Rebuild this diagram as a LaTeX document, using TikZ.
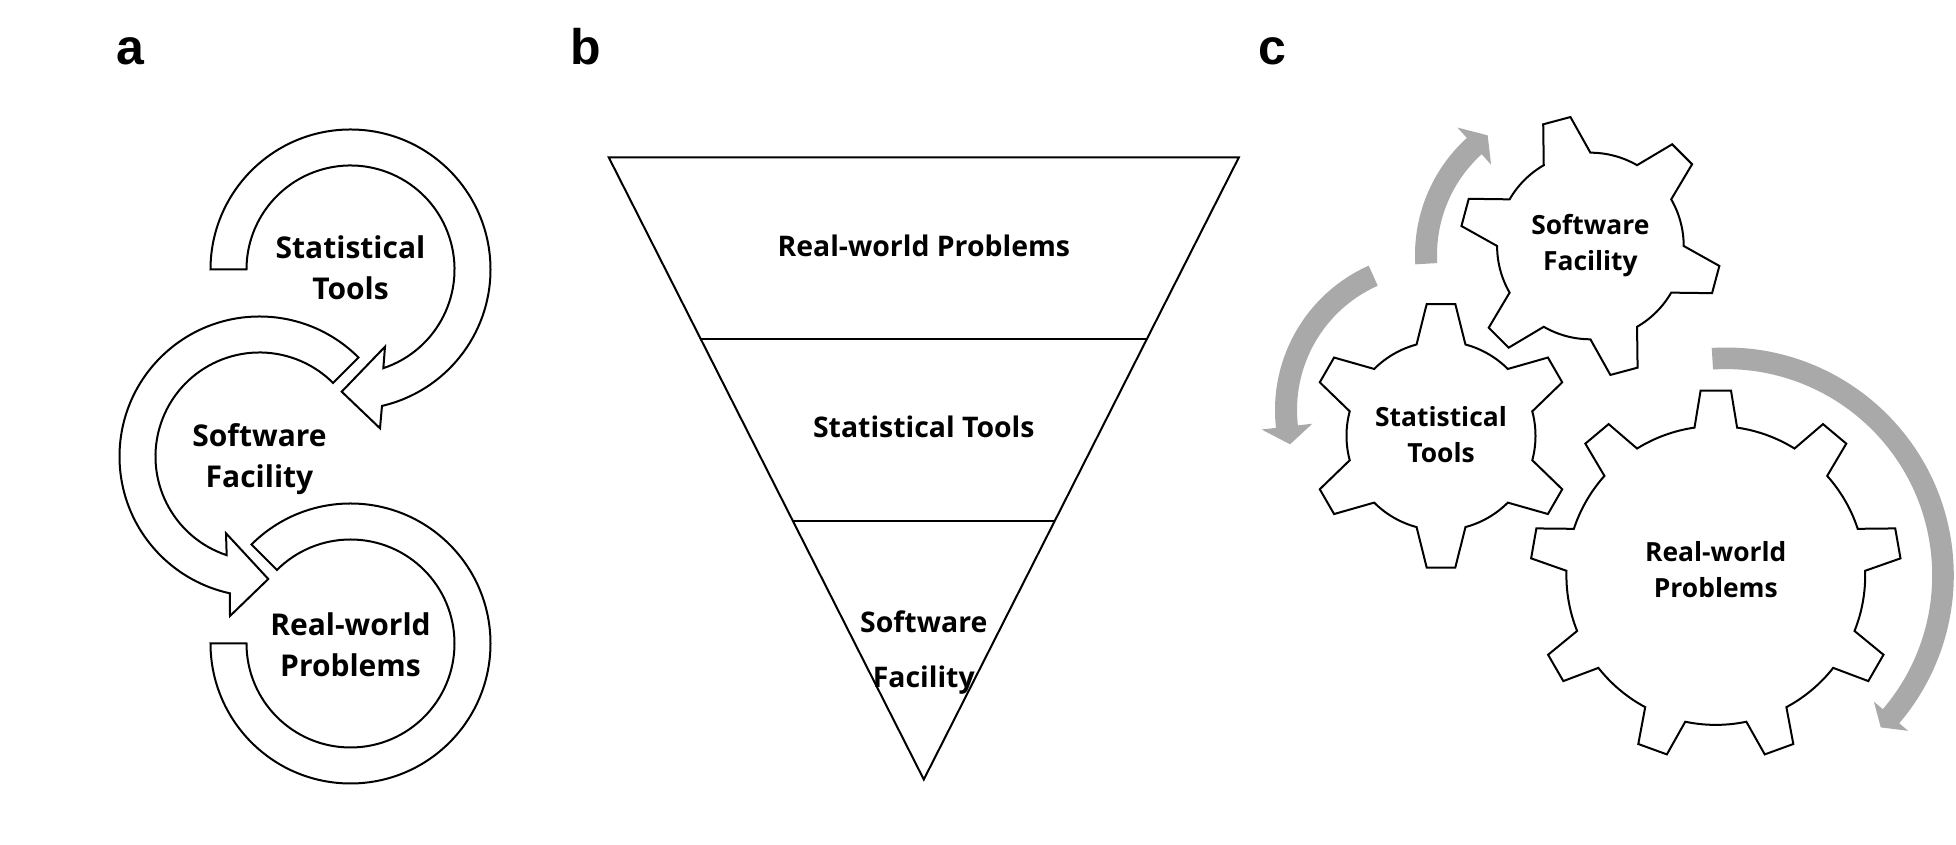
\documentclass[tikz,border=0pt]{standalone}
\usepackage{fontspec}
\setmainfont{Open Sans}
\newfontfamily\labelfont{Liberation Sans}
\usetikzlibrary{calc}
\definecolor{arrowgray}{RGB}{169,169,169}
\tikzset{
  ring/.style={draw=black, fill=white, line width=1pt, line join=miter},
  gearshape/.style={draw=black, fill=white, line width=1pt, line join=miter},
  flow/.style={fill=arrowgray, draw=none},
  outline/.style={draw=black, line width=1pt},
  txta/.style={font=\bfseries\fontsize{15}{20.5}\selectfont, align=center, inner sep=0pt},
  txtb/.style={font=\bfseries\fontsize{14.2}{19}\selectfont, align=center, inner sep=0pt},
  txtbw/.style={font=\bfseries\fontsize{14.2}{27.25}\selectfont, align=center, inner sep=0pt},
  txtc/.style={font=\bfseries\fontsize{13.2}{18}\selectfont, align=center, inner sep=0pt},
  panel/.style={font=\labelfont\bfseries\fontsize{25}{30}\selectfont, inner sep=0pt, anchor=base},
}
% center x, center y, teeth, first tooth angle, tip radius, root radius, tip half-angle, root half-angle
\newcommand\mygear[8]{%
  \pgfmathsetmacro\gstep{360/#3}%
  \draw[gearshape] ([shift={(#1,#2)}]#4-#8:#6)
    \foreach \k [evaluate=\k as \ga using #4+(\k-1)*\gstep] in {1,...,#3}{
      -- ([shift={(#1,#2)}]\ga-#7:#5)
      -- ([shift={(#1,#2)}]\ga+#7:#5)
      -- ([shift={(#1,#2)}]\ga+#8:#6)
      arc[start angle=\ga+#8, end angle=\ga+\gstep-#8, radius=#6]
    } -- cycle;%
}
\begin{document}
\begin{tikzpicture}[x=0.5pt,y=0.5pt]
\useasboundingbox (0,0) rectangle (1956,845);
\fill[white] (0,0) rectangle (1956,845);

% panel labels
\node[panel] (la) at (130.5,780) {a};
\node[panel] (lb) at (586,780) {b};
\node[panel] (lc) at (1272,780) {c};

% ---------- panel a ----------
\coordinate (cT) at (350.5,575.5);
\coordinate (cM) at (259.5,388.5);
\coordinate (cB) at (350.5,201.5);

\draw[ring] ([shift={(cT)}]180:140) arc[start angle=180, end angle=-77, radius=140]
  -- (380,416.7) -- (341.7,453.3) -- (385,498.3)
  -- ([shift={(cT)}]-71.6:104) arc[start angle=-71.6, end angle=180, radius=104] -- cycle;

\draw[ring] ([shift={(cM)}]45:140) arc[start angle=45, end angle=257.8, radius=140]
  -- (230,229) -- (268.3,266) -- (226,311.7)
  -- ([shift={(cM)}]251.6:104) arc[start angle=251.6, end angle=45, radius=104] -- cycle;

\draw[ring] ([shift={(cB)}]135:140) arc[start angle=135, end angle=-180, radius=140]
  -- ([shift={(cB)}]180:104) arc[start angle=-180, end angle=135, radius=104] -- cycle;

\node[txta] (ta1) at (350.5,577.7) {Statistical\\Tools};
\node[txta] (ta2) at (259.5,385.5) {Software\\Facility};
\node[txta] (ta3) at (350.5,200.5) {Real-world\\Problems};

% ---------- panel b ----------
\coordinate (tl) at (608.8,687.5);
\coordinate (tr) at (1238.8,687.5);
\coordinate (tp) at (923.8,65.5);
\draw[outline, line join=miter] (tl) -- (tr) -- (tp) -- cycle;
\draw[outline] ($(tl)!0.2923!(tp)$) -- ($(tr)!0.2923!(tp)$);
\draw[outline] ($(tl)!0.5844!(tp)$) -- ($(tr)!0.5844!(tp)$);

\node[txtb, anchor=base] (tb1) at (923.8,588.3) {Real-world Problems};
\node[txtb, anchor=base] (tb2) at (923.8,407.5) {Statistical Tools};
\node[txtbw] (tb3) at (923.8,192.3) {Software\\Facility};

% ---------- panel c ----------
\mygear{1590.4}{599}{6}{45}{130.5}{93.3}{6.2}{15}
\mygear{1441}{409.2}{6}{30}{132.5}{94.5}{6.2}{15}
\mygear{1715.8}{269.5}{9}{90}{185.5}{149.4}{4.7}{8.2}

\node[txtc] (tc1) at (1590.4,599) {Software\\Facility};
\node[txtc] (tc2) at (1441,410.3) {Statistical\\Tools};
\node[txtc] (tc3) at (1715.8,275.8) {Real-world\\Problems};

\coordinate (cL) at (1433,435);
\fill[flow] ([shift={(cL)}]114:158) arc[start angle=114, end angle=186.5, radius=158]
  -- ([shift={(cL)}]186.5:172.5) -- ([shift={(cL)}]193.5:147) -- ([shift={(cL)}]186.5:121.5)
  -- ([shift={(cL)}]186.5:136) arc[start angle=186.5, end angle=114, radius=136] -- cycle;

\coordinate (cU) at (1573,590);
\fill[flow] ([shift={(cU)}]183.4:158) arc[start angle=183.4, end angle=132.2, radius=158]
  -- ([shift={(cU)}]132.2:172) -- ([shift={(cU)}]125.5:147) -- ([shift={(cU)}]132.2:122)
  -- ([shift={(cU)}]132.2:136) arc[start angle=132.2, end angle=183.4, radius=136] -- cycle;

\coordinate (cR) at (1726,269.7);
\fill[flow] ([shift={(cR)}]93.6:227.8) arc[start angle=93.6, end angle=-40.5, radius=227.8]
  -- ([shift={(cR)}]-40.5:239.5) -- ([shift={(cR)}]-44.5:217) -- ([shift={(cR)}]-40.5:194.5)
  -- ([shift={(cR)}]-40.5:206.2) arc[start angle=-40.5, end angle=93.6, radius=206.2] -- cycle;
\end{tikzpicture}
\end{document}
